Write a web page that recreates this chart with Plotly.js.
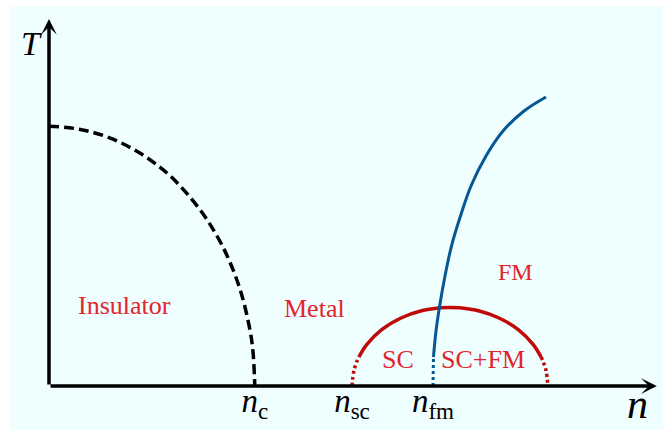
<!DOCTYPE html>
<html>
<head>
<meta charset="utf-8">
<script src="https://cdn.plot.ly/plotly-3.0.1.min.js"></script>
<style>html,body{margin:0;padding:0;background:#fff;}#chart{width:670px;height:432px;}</style>
</head>
<body>
<div id="chart"></div>
<script>
// Insulator / metal boundary (dashed black)
const insulatorN = [0, 0.5, 1.0, 1.5, 2.0, 2.5, 2.8, 3.0, 3.2, 3.35, 3.40, 3.43];
const insulatorT = [4.33, 4.28, 4.14, 3.89, 3.52, 2.96, 2.50, 2.10, 1.56, 0.93, 0.57, 0];

// Superconducting dome (red): dotted feet and solid arc
const scLeftDotN = [5.05, 5.083, 5.132, 5.164];
const scLeftDotT = [0, 0.261, 0.409, 0.482];
const scSolidN = [5.164, 5.295, 5.540, 5.867, 6.193, 6.520, 6.683, 6.846, 7.173, 7.500, 7.826, 8.071, 8.202];
const scSolidT = [0.482, 0.690, 0.936, 1.134, 1.250, 1.303, 1.310, 1.303, 1.250, 1.134, 0.936, 0.690, 0.482];
const scRightDotN = [8.202, 8.234, 8.283, 8.316];
const scRightDotT = [0.482, 0.409, 0.261, 0];

// Ferromagnetic boundary (blue): dotted foot and solid curve
const fmDotN = [6.40, 6.408];
const fmDotT = [0, 0.483];
const fmSolidN = [6.408, 6.45, 6.508, 6.60, 6.708, 6.858, 7.033, 7.283, 7.567, 7.917, 8.283];
const fmSolidT = [0.483, 0.917, 1.317, 1.833, 2.333, 2.833, 3.333, 3.833, 4.25, 4.583, 4.817];

// Tick labels on the n axis
const tickVals = [3.43, 5.05, 6.40];
const tickText = ['<i>n</i><sub>c</sub>', '<i>n</i><sub>sc</sub>', '<i>n</i><sub>fm</sub>'];

// Region labels
const regionText = ['Insulator', 'Metal', 'SC', 'SC+FM', 'FM'];
const regionN = [1.25, 4.43, 5.82, 7.23, 7.77];
const regionT = [1.35, 1.30, 0.45, 0.45, 1.90];

const RED = '#bf0a0a', BLUE = '#065796', TXT = '#e3242b';
const SERIF = 'Times New Roman, Liberation Serif, Tinos, DejaVu Serif, serif';

function line(x, y, color, width, dash) {
  return {x: x, y: y, type: 'scatter', mode: 'lines', hoverinfo: 'skip',
    line: {color: color, width: width, dash: dash, shape: 'spline', smoothing: 1}};
}

const traces = [
  line(insulatorN, insulatorT, '#000', 3.5, '10px,5px'),
  line(scLeftDotN, scLeftDotT, RED, 3.5, '3px,3px'),
  line(scSolidN, scSolidT, RED, 3.5, 'solid'),
  line(scRightDotN, scRightDotT, RED, 3.5, '3px,3px'),
  line(fmDotN, fmDotT, BLUE, 3, '3px,3px'),
  line(fmSolidN, fmSolidT, BLUE, 3, 'solid')
];

const annotations = regionText.map((t, i) => ({
  x: regionN[i], y: regionT[i], xref: 'x', yref: 'y', text: t, showarrow: false,
  xanchor: 'center', yanchor: 'middle',
  font: {family: SERIF, size: t === 'FM' ? 24 : 26, color: TXT}
}));

// axes as arrows
annotations.push({x: 10.13, y: 0, ax: 0, ay: 0, xref: 'x', yref: 'y', axref: 'x', ayref: 'y',
  text: '', showarrow: true, arrowhead: 3, arrowsize: 0.75, arrowwidth: 3.5, arrowcolor: '#000', standoff: 0});
annotations.push({x: 0, y: 6.117, ax: 0, ay: 0, xref: 'x', yref: 'y', axref: 'x', ayref: 'y',
  text: '', showarrow: true, arrowhead: 3, arrowsize: 0.75, arrowwidth: 3.5, arrowcolor: '#000', standoff: 0});
// axis titles
annotations.push({x: -0.0278, y: 0.927, xref: 'paper', yref: 'paper', text: '<i>T</i>', showarrow: false,
  xanchor: 'center', yanchor: 'middle', font: {family: SERIF, size: 34, color: '#000'}});
annotations.push({x: 0.962, y: -0.048, xref: 'paper', yref: 'paper', text: '<i>n</i>', showarrow: false,
  xanchor: 'center', yanchor: 'middle', font: {family: SERIF, size: 42, color: '#000'}});

const layout = {
  width: 670, height: 432,
  margin: {l: 49, r: 9, t: 17, b: 46},
  paper_bgcolor: '#ffffff',
  plot_bgcolor: 'rgba(0,0,0,0)',
  showlegend: false,
  xaxis: {range: [0, 10.2], showgrid: false, zeroline: false, showline: false,
    tickmode: 'array', tickvals: tickVals, ticktext: tickText, ticks: '', ticklabelstandoff: -8,
    tickfont: {family: SERIF, size: 33, color: '#000'}, fixedrange: true},
  yaxis: {range: [0, 6.15], showgrid: false, zeroline: false, showline: false,
    showticklabels: false, ticks: '', fixedrange: true},
  shapes: [{type: 'rect', xref: 'paper', yref: 'paper', x0: -0.0637, x1: 1.0033, y0: -0.119, y1: 1.030,
    fillcolor: '#effeff', line: {width: 0}, layer: 'below'}],
  annotations: annotations
};

Plotly.newPlot('chart', traces, layout, {displayModeBar: false, staticPlot: true});
</script>
</body>
</html>
